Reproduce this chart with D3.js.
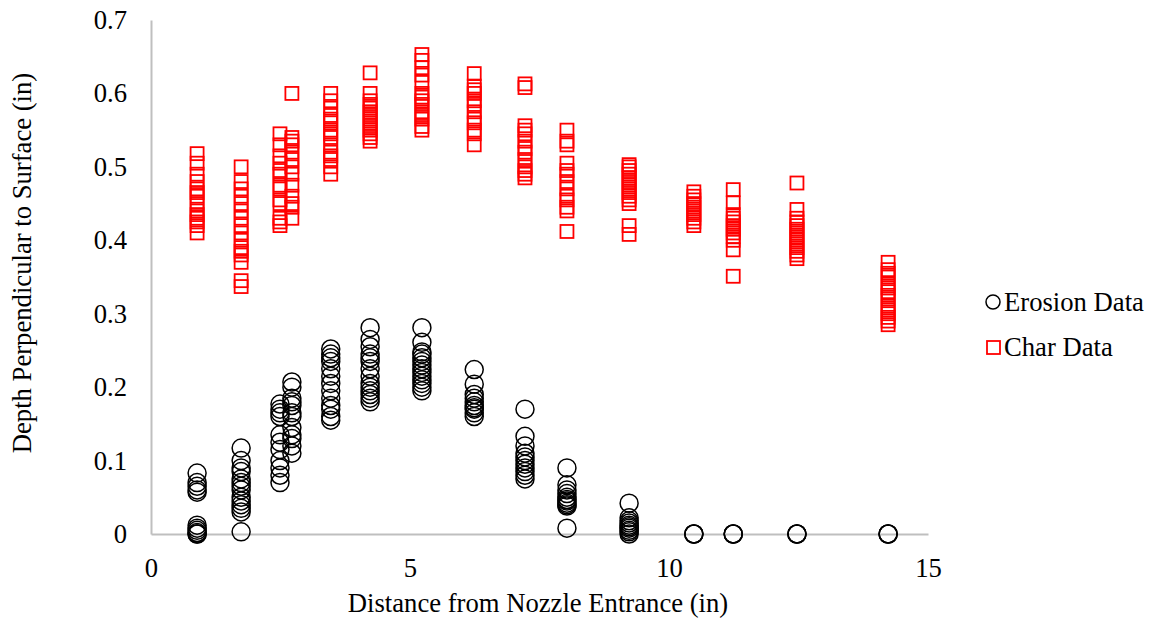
<!DOCTYPE html>
<html>
<head>
<meta charset="utf-8">
<script src="https://cdn.jsdelivr.net/npm/d3@7"></script>
<style>
  html, body { margin: 0; padding: 0; background: #fff; }
  text { font-family: "Liberation Serif", "Times New Roman", serif; fill: #000; }
</style>
</head>
<body>
<svg id="chart" width="1154" height="619"></svg>
<script>
// Distance from nozzle entrance (in) for each measurement station
const stations = [0.89, 1.74, 2.49, 2.72, 3.47, 4.23, 5.23, 6.24, 7.22, 8.03, 9.23, 10.48, 11.24, 12.47, 14.23];

// Erosion depths (in) at each station
const erosionDepths = [
  [0.083, 0.07, 0.065, 0.06, 0.057, 0.012, 0.008, 0.005, 0.002, 0.0, 0.0],
  [0.117, 0.10, 0.09, 0.085, 0.075, 0.07, 0.065, 0.06, 0.05, 0.045, 0.04, 0.035, 0.03, 0.003],
  [0.177, 0.17, 0.165, 0.16, 0.135, 0.125, 0.115, 0.10, 0.09, 0.08, 0.07],
  [0.207, 0.20, 0.185, 0.18, 0.175, 0.165, 0.16, 0.145, 0.135, 0.13, 0.12, 0.11],
  [0.252, 0.245, 0.24, 0.235, 0.225, 0.215, 0.205, 0.195, 0.185, 0.175, 0.17, 0.16, 0.155],
  [0.281, 0.265, 0.255, 0.245, 0.24, 0.235, 0.225, 0.215, 0.205, 0.20, 0.195, 0.19, 0.185, 0.18],
  [0.281, 0.261, 0.248, 0.245, 0.24, 0.235, 0.23, 0.225, 0.22, 0.215, 0.21, 0.205, 0.20, 0.195],
  [0.224, 0.204, 0.19, 0.185, 0.18, 0.175, 0.172, 0.17, 0.165, 0.16],
  [0.170, 0.133, 0.12, 0.11, 0.105, 0.10, 0.095, 0.09, 0.085, 0.08, 0.075],
  [0.09, 0.067, 0.06, 0.055, 0.05, 0.047, 0.045, 0.042, 0.04, 0.038, 0.008],
  [0.042, 0.022, 0.018, 0.015, 0.012, 0.01, 0.008, 0.005, 0.003, 0.0],
  [0.0, 0.0, 0.0],
  [0.0, 0.0, 0.0],
  [0.0, 0.0, 0.0],
  [0.0, 0.0, 0.0]
];

// Char depths (in) at each station
const charDepths = [
  [0.518, 0.505, 0.49, 0.48, 0.47, 0.465, 0.46, 0.45, 0.44, 0.435, 0.43, 0.425, 0.42, 0.41],
  [0.50, 0.48, 0.47, 0.46, 0.45, 0.44, 0.43, 0.42, 0.41, 0.40, 0.39, 0.385, 0.38, 0.37, 0.345, 0.337],
  [0.545, 0.53, 0.515, 0.505, 0.495, 0.49, 0.475, 0.47, 0.455, 0.45, 0.43, 0.425, 0.42],
  [0.60, 0.54, 0.535, 0.53, 0.52, 0.51, 0.50, 0.49, 0.475, 0.46, 0.45, 0.445, 0.43],
  [0.60, 0.59, 0.58, 0.57, 0.565, 0.56, 0.55, 0.545, 0.54, 0.53, 0.52, 0.515, 0.51, 0.50, 0.49],
  [0.628, 0.60, 0.59, 0.585, 0.58, 0.575, 0.57, 0.565, 0.56, 0.555, 0.55, 0.545, 0.54, 0.535],
  [0.653, 0.645, 0.635, 0.625, 0.615, 0.60, 0.595, 0.59, 0.585, 0.575, 0.57, 0.565, 0.555, 0.55],
  [0.627, 0.61, 0.605, 0.60, 0.59, 0.585, 0.575, 0.565, 0.56, 0.55, 0.545, 0.53],
  [0.613, 0.608, 0.556, 0.55, 0.545, 0.535, 0.525, 0.52, 0.51, 0.50, 0.495, 0.49, 0.485],
  [0.55, 0.535, 0.53, 0.505, 0.495, 0.49, 0.48, 0.47, 0.46, 0.455, 0.445, 0.44, 0.412],
  [0.503, 0.50, 0.495, 0.49, 0.485, 0.48, 0.475, 0.47, 0.465, 0.46, 0.455, 0.45, 0.42, 0.408],
  [0.466, 0.46, 0.455, 0.45, 0.445, 0.44, 0.435, 0.43, 0.425, 0.42],
  [0.469, 0.451, 0.435, 0.43, 0.425, 0.42, 0.415, 0.41, 0.405, 0.40, 0.387, 0.351],
  [0.478, 0.442, 0.43, 0.425, 0.42, 0.415, 0.41, 0.405, 0.40, 0.395, 0.39, 0.385, 0.38, 0.375],
  [0.37, 0.36, 0.355, 0.35, 0.34, 0.335, 0.33, 0.325, 0.32, 0.31, 0.305, 0.30, 0.295, 0.29, 0.285]
];

const xTicks = [0, 5, 10, 15];
const yTicks = [0, 0.1, 0.2, 0.3, 0.4, 0.5, 0.6, 0.7];
const seriesNames = ["Erosion Data", "Char Data"];
const xTitle = "Distance from Nozzle Entrance (in)";
const yTitle = "Depth Perpendicular to Surface (in)";

const svg = d3.select("#chart");
const FS = 26.67;

const x = d3.scaleLinear().domain([0, 15]).range([151, 928]);
const y = d3.scaleLinear().domain([0, 0.7]).range([534, 20]);

// Axes
const xAxis = svg.append("g").attr("transform", `translate(0,${y(0)})`)
  .call(d3.axisBottom(x).tickValues(xTicks).tickSize(0).tickPadding(24).tickFormat(d3.format("d")));
const yAxis = svg.append("g").attr("transform", `translate(${x(0)},0)`)
  .call(d3.axisLeft(y).tickValues(yTicks).tickSize(0).tickPadding(24).tickFormat(d => d === 0 ? "0" : d3.format(".1f")(d)));
[xAxis, yAxis].forEach(g => {
  g.select(".domain").attr("stroke", "#bfbfbf").attr("stroke-width", 2);
  g.selectAll("text").style("font-family", '"Liberation Serif", serif').style("font-size", FS + "px").attr("fill", "#000");
});

// Flatten data
const erosionPts = [];
stations.forEach((s, i) => erosionDepths[i].forEach(v => erosionPts.push([s, v])));
const charPts = [];
stations.forEach((s, i) => charDepths[i].forEach(v => charPts.push([s, v])));

const R = 9, S = 13;
svg.append("g").selectAll("circle").data(erosionPts).join("circle")
  .attr("cx", d => x(d[0])).attr("cy", d => y(d[1])).attr("r", R)
  .attr("fill", "none").attr("stroke", "#000").attr("stroke-width", 1.5);

svg.append("g").selectAll("rect").data(charPts).join("rect")
  .attr("x", d => x(d[0]) - S / 2).attr("y", d => y(d[1]) - S / 2)
  .attr("width", S).attr("height", S)
  .attr("fill", "none").attr("stroke", "#ff0000").attr("stroke-width", 1.8);

// Axis titles
svg.append("text").attr("x", 538).attr("y", 612).attr("text-anchor", "middle")
  .style("font-size", FS + "px").text(xTitle);
svg.append("text").attr("transform", `translate(31,${(y(0) + y(0.7)) / 2 - 14}) rotate(-90)`)
  .attr("text-anchor", "middle").style("font-size", FS + "px").text(yTitle);

// Legend
const leg = svg.append("g");
leg.append("circle").attr("cx", 993).attr("cy", 302).attr("r", 7)
  .attr("fill", "none").attr("stroke", "#000").attr("stroke-width", 1.5);
leg.append("text").attr("x", 1004).attr("y", 311).style("font-size", FS + "px").text(seriesNames[0]);
leg.append("rect").attr("x", 987).attr("y", 341).attr("width", 13).attr("height", 13)
  .attr("fill", "none").attr("stroke", "#ff0000").attr("stroke-width", 1.8);
leg.append("text").attr("x", 1004).attr("y", 356).style("font-size", FS + "px").text(seriesNames[1]);
</script>
</body>
</html>
